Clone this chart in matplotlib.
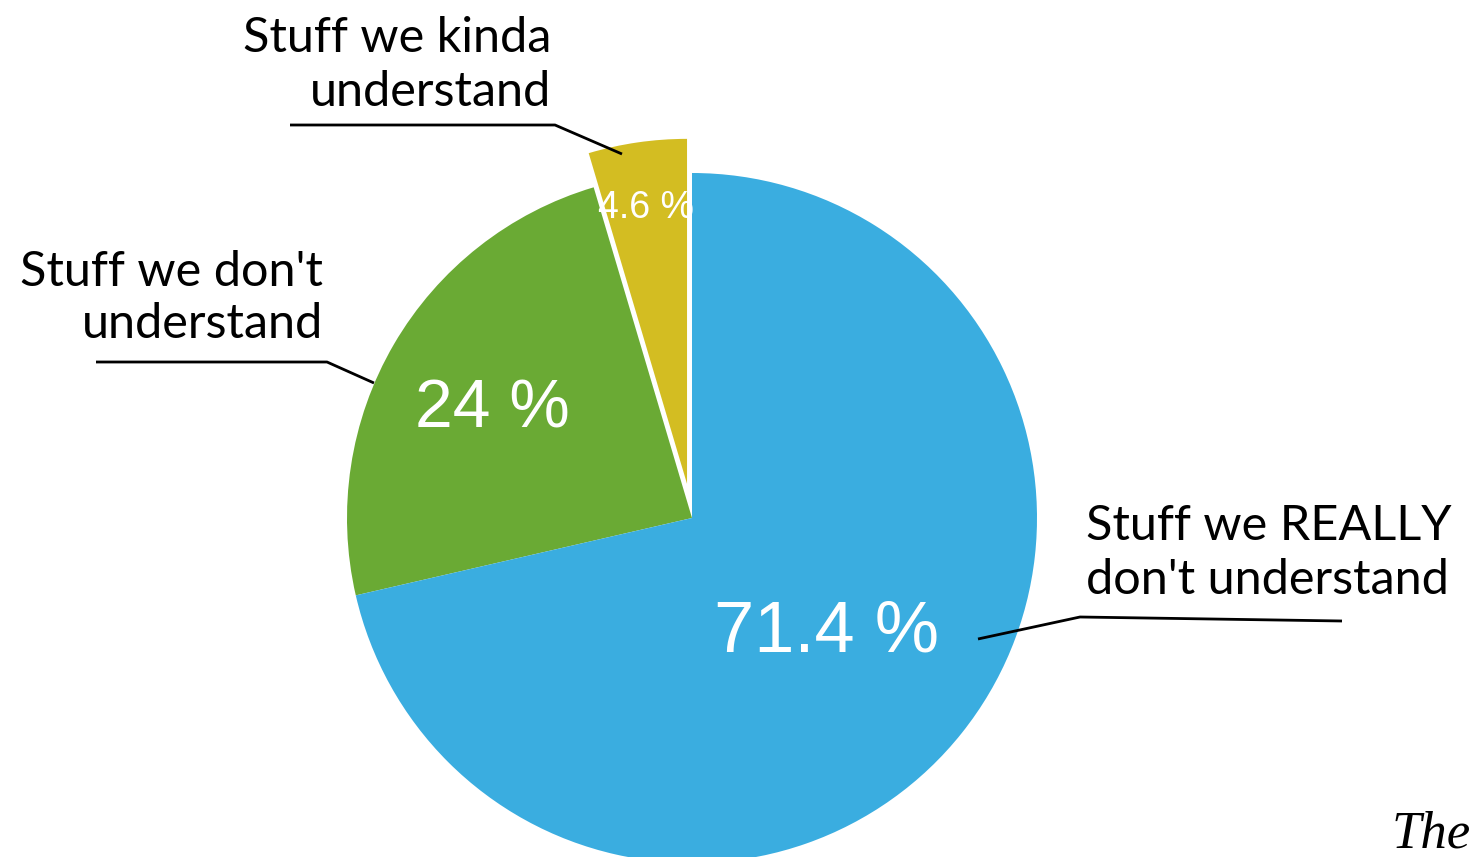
import numpy as np
import matplotlib
matplotlib.use("Agg")
import matplotlib.pyplot as plt

# data
categories = ["Stuff we kinda\nunderstand", "Stuff we don't\nunderstand", "Stuff we REALLY\ndon't understand"]
shares = [4.6, 24, 71.4]
pct_labels = ["4.6 %", "24 %", "71.4 %"]
colors = ["#D3BD22", "#6AAA34", "#3AADE0"]

W, H = 1470, 857
CX, CY, R = 692, 518, 345  # pie centre / radius in pixels


def px(x, y):
    # pixel position -> data coords (pie radius = 1)
    return (x - CX) / R, (CY - y) / R


fig = plt.figure(figsize=(W / 100, H / 100), dpi=100)
ax = fig.add_axes([0, 0, 1, 1])
ax.axis("off")

wedges, _ = ax.pie(shares, colors=colors, startangle=90, counterclock=True,
                   explode=[0.1, 0, 0], radius=1,
                   wedgeprops=dict(edgecolor="none", linewidth=0))
ax.set_xlim(-CX / R, (W - CX) / R)
ax.set_ylim(-(H - CY) / R, CY / R)
ax.set_aspect("auto")

# percentage labels inside the wedges
pct_r = [0.83, 0.67, 0.50]
pct_size = [27, 49, 52]
for w, lab, r, s in zip(wedges, pct_labels, pct_r, pct_size):
    ang = np.deg2rad((w.theta1 + w.theta2) / 2)
    cx, cy = w.center
    ax.text(cx + r * np.cos(ang), cy + r * np.sin(ang) - 0.022, lab, color="white",
            fontsize=s, ha="center", va="center", family="Liberation Sans")

# category labels with leader lines
lab_font = dict(fontsize=35, family="Lato", color="black", linespacing=1.25)
ax.text(*px(551, 65), categories[0], ha="right", va="center", multialignment="right", **lab_font)
ax.text(*px(323, 298), categories[1], ha="right", va="center", multialignment="right", **lab_font)
ax.text(*px(1086, 553), categories[2], ha="left", va="center", multialignment="left", **lab_font)

leaders = [
    [(290, 125), (555, 125), (622, 154)],
    [(96, 362), (327, 362), (374, 383)],
    [(978, 639), (1080, 617), (1342, 621)],
]
for pts in leaders:
    xy = np.array([px(*p) for p in pts])
    ax.plot(xy[:, 0], xy[:, 1], color="black", lw=2, solid_capstyle="butt")

ax.text(*px(1392, 848), "The", fontsize=38, style="italic",
        family="Liberation Serif", ha="left", va="baseline")

fig.savefig("out.png", dpi=100)
